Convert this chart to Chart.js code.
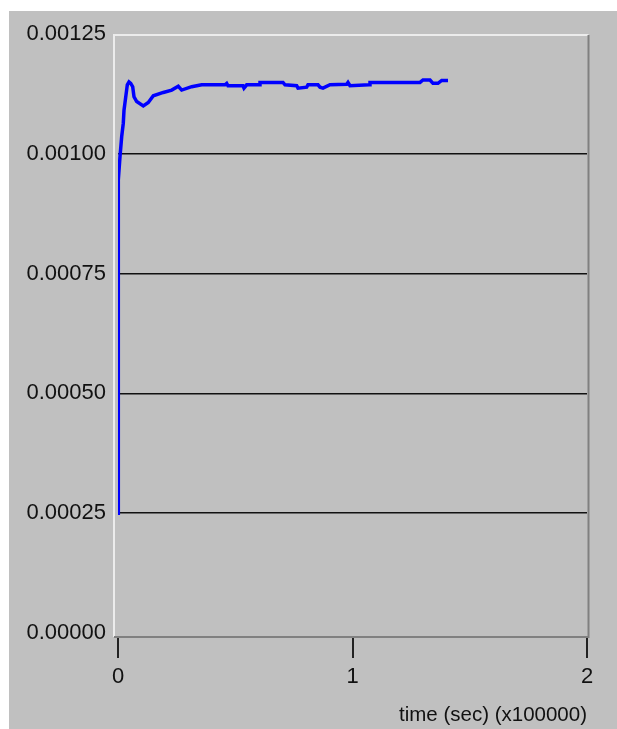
<!DOCTYPE html>
<html>
<head>
<meta charset="utf-8">
<script src="https://cdn.jsdelivr.net/npm/chart.js@4/dist/chart.umd.min.js"></script>
<style>
  body { margin: 0; background: #ffffff; }
  canvas { display: block; }
</style>
</head>
<body>
<canvas id="grafico" width="617" height="729"></canvas>
<script>
// tiempo en unidades de 100000 s
const tiempos = [
  0, 0.0013, 0.0085, 0.0158, 0.0226, 0.0256, 0.0341, 0.0397, 0.0469, 0.0542,
  0.0627, 0.0682, 0.0797, 0.1079, 0.1292, 0.1505, 0.1932, 0.2290, 0.2571, 0.2716,
  0.3143, 0.3569, 0.3923, 0.4563, 0.4635, 0.4691, 0.5330, 0.5373, 0.5488, 0.6013,
  0.6055, 0.7036, 0.7122, 0.7620, 0.7676, 0.8047, 0.8102, 0.8529, 0.8614, 0.8742,
  0.9041, 0.9753, 0.9808, 0.9893, 1.0704, 1.0746, 1.2878, 1.3006, 1.3305, 1.3433,
  1.3646, 1.3804, 1.4072
];
const valores = [
  0.000250, 0.000945, 0.000994, 0.001036, 0.001064, 0.001091, 0.001123, 0.001144, 0.001150, 0.001147,
  0.001140, 0.001119, 0.001109, 0.001100, 0.001107, 0.001121, 0.001128, 0.001133, 0.001141, 0.001133,
  0.001140, 0.001144, 0.001144, 0.001144, 0.001147, 0.001142, 0.001142, 0.001137, 0.001144, 0.001144,
  0.001149, 0.001149, 0.001144, 0.001142, 0.001137, 0.001139, 0.001144, 0.001144, 0.001139, 0.001137,
  0.001144, 0.001145, 0.001149, 0.001142, 0.001144, 0.001149, 0.001149, 0.001154, 0.001154, 0.001147,
  0.001147, 0.001153, 0.001153
];
const ticksY = [0, 0.00025, 0.0005, 0.00075, 0.001, 0.00125];
const ticksX = [0, 1, 2];
const tituloX = "time (sec) (x100000)";

const fuente = "'Liberation Sans', Arial, sans-serif";

// fondo gris del panel y marco con relieve alrededor del área del gráfico
const panel = {
  id: "panel",
  beforeDraw(chart) {
    const ctx = chart.ctx;
    ctx.save();
    ctx.fillStyle = "#ffffff";
    ctx.fillRect(0, 0, chart.width, chart.height);
    ctx.fillStyle = "#c0c0c0";
    ctx.fillRect(9, 11, chart.width - 9, chart.height - 11);
    ctx.restore();
  },
  beforeDatasetsDraw(chart) {
    const a = chart.chartArea;
    const ctx = chart.ctx;
    const l = a.left - 4, t = a.top + 1, r = a.right + 1.5, b = a.bottom + 4;
    ctx.save();
    // las marcas del eje x empiezan debajo del marco
    ctx.fillStyle = "#c0c0c0";
    ctx.fillRect(l, a.bottom - 1, r - l, b - a.bottom + 1);
    ctx.lineWidth = 2;
    ctx.strokeStyle = "#ececec";
    ctx.beginPath();
    ctx.moveTo(l, b);
    ctx.lineTo(l, t);
    ctx.lineTo(r, t);
    ctx.stroke();
    ctx.strokeStyle = "#808080";
    ctx.beginPath();
    ctx.moveTo(r, t);
    ctx.lineTo(r, b);
    ctx.lineTo(l, b);
    ctx.stroke();
    ctx.restore();
  }
};

const puntos = tiempos.map((t, i) => ({ x: t, y: valores[i] }));

const config = {
  type: "line",
  data: {
    datasets: [{
      data: puntos,
      borderColor: "#0000ff",
      borderWidth: 3.5,
      pointRadius: 0,
      tension: 0,
      fill: false
    }]
  },
  options: {
    responsive: false,
    animation: false,
    layout: { padding: { top: 34, right: 30, left: 0, bottom: 0 } },
    plugins: { legend: { display: false }, tooltip: { enabled: false } },
    scales: {
      x: {
        type: "linear",
        min: 0,
        max: 2,
        afterBuildTicks: (s) => { s.ticks = ticksX.map(v => ({ value: v })); },
        afterFit: (s) => { s.height = 96; },
        border: { display: false },
        grid: {
          drawOnChartArea: false,
          drawTicks: true,
          tickLength: 25,
          color: "#222222",
          lineWidth: 2
        },
        ticks: {
          padding: 6,
          color: "#111111",
          font: { family: fuente, size: 22 },
          callback: (v) => String(v)
        },
        title: {
          display: true,
          text: tituloX,
          align: "end",
          color: "#111111",
          font: { family: fuente, size: 20.5 },
          padding: { top: 0, bottom: 1 }
        }
      },
      y: {
        type: "linear",
        min: 0,
        max: 0.00125,
        afterBuildTicks: (s) => { s.ticks = ticksY.map(v => ({ value: v })); },
        afterFit: (s) => { s.width = 118; },
        border: { display: false },
        grid: {
          drawTicks: false,
          lineWidth: 1.5,
          color: (c) => (c.tick && c.tick.value > 0 && c.tick.value < 0.00125) ? "#111111" : "rgba(0,0,0,0)"
        },
        ticks: {
          padding: 12,
          color: "#111111",
          font: { family: fuente, size: 22 },
          callback: (v) => Number(v).toFixed(5)
        }
      }
    }
  },
  plugins: [panel]
};

new Chart(document.getElementById("grafico"), config);
</script>
</body>
</html>
